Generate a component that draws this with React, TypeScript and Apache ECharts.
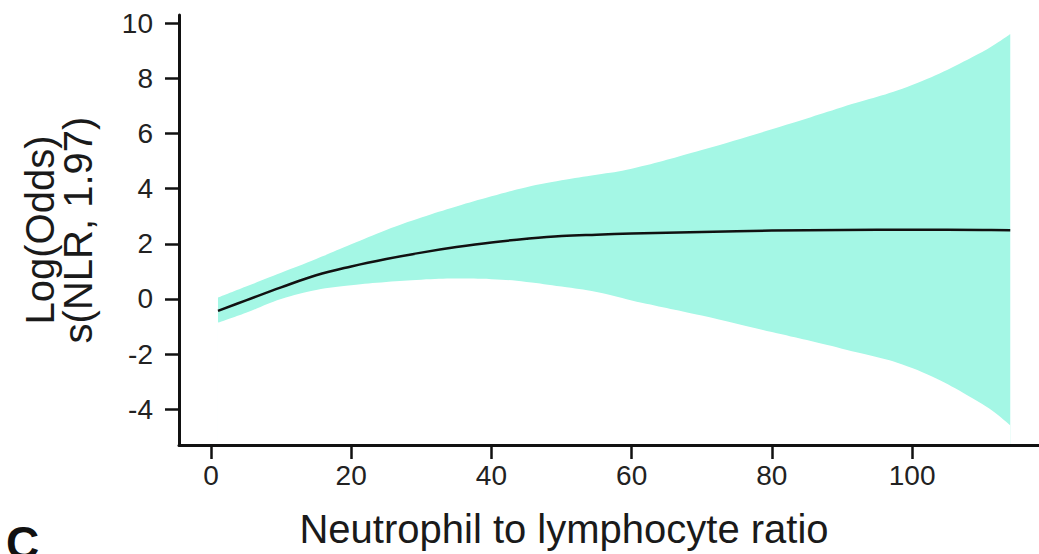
import React, { useEffect, useRef } from "react";
import * as echarts from "echarts";

// Neutrophil to lymphocyte ratio (x) and smooth-term estimate with its confidence band
const nlr = [1, 5, 10, 15, 20, 25, 30, 35, 40, 45, 50, 55, 60, 70, 80, 90, 100, 110, 114];
const fit = [-0.43, -0.05, 0.42, 0.86, 1.18, 1.45, 1.68, 1.88, 2.05, 2.18, 2.28, 2.33, 2.37, 2.43, 2.48, 2.5, 2.51, 2.5, 2.49];
const upper = [0.05, 0.45, 0.95, 1.45, 1.98, 2.5, 2.95, 3.35, 3.72, 4.05, 4.3, 4.5, 4.72, 5.4, 6.15, 6.95, 7.75, 8.95, 9.6];
const lower = [-0.86, -0.5, 0.0, 0.33, 0.5, 0.62, 0.7, 0.74, 0.72, 0.62, 0.45, 0.25, -0.05, -0.6, -1.2, -1.8, -2.5, -3.8, -4.57];

const xTicks = [0, 20, 40, 60, 80, 100];
const yTicks = [-4, -2, 0, 2, 4, 6, 8, 10];

const xTitle = "Neutrophil to lymphocyte ratio";
const yTitle = "Log(Odds)\ns(NLR, 1.97)";
const panelLabel = "C";

const FONT = "'Liberation Sans', Arial, Helvetica, sans-serif";
const BAND = "#a4f7e5";

export default function App() {
  const ref = useRef<HTMLDivElement>(null);

  useEffect(() => {
    if (!ref.current) return;
    const chart = echarts.init(ref.current, undefined, { renderer: "svg" });

    const upperData = nlr.map((x, i) => [x, upper[i]]);
    const lowerData = nlr.map((x, i) => [x, lower[i]]);
    const fitData = nlr.map((x, i) => [x, fit[i]]);

    chart.setOption({
      animation: false,
      backgroundColor: "#ffffff",
      grid: { left: 179, right: 0, top: 15, bottom: 106, containLabel: false },
      xAxis: {
        type: "value",
        min: -4.56,
        max: 118.1,
        z: 10,
        axisLine: { show: true, onZero: false, lineStyle: { color: "#111", width: 3 } },
        axisTick: {
          show: true,
          length: 14,
          lineStyle: { color: "#111", width: 2.5 },
          customValues: xTicks,
        },
        axisLabel: {
          customValues: xTicks,
          fontSize: 28,
          color: "#222",
          fontFamily: FONT,
          margin: 16,
        },
        splitLine: { show: false },
        name: xTitle,
        nameLocation: "middle",
        nameGap: 64,
        nameTextStyle: { fontSize: 40, color: "#1a1a1a", fontFamily: FONT, padding: [0, 90, 0, 0] },
      },
      yAxis: {
        type: "value",
        min: -5.29,
        max: 10.29,
        z: 10,
        axisLine: { show: true, onZero: false, lineStyle: { color: "#111", width: 3 } },
        axisTick: {
          show: true,
          length: 14,
          lineStyle: { color: "#111", width: 2.5 },
          customValues: yTicks,
        },
        axisLabel: {
          customValues: yTicks,
          fontSize: 28,
          color: "#222",
          fontFamily: FONT,
          margin: 26,
        },
        splitLine: { show: false },
        name: yTitle,
        nameLocation: "middle",
        nameRotate: 90,
        nameGap: 82,
        nameTextStyle: { fontSize: 40, color: "#1a1a1a", fontFamily: FONT, lineHeight: 38, align: "center" },
      },
      graphic: [
        {
          type: "text",
          left: 6,
          top: 520,
          style: { text: panelLabel, fontSize: 46, fontWeight: "bold", fill: "#111", fontFamily: FONT },
        },
      ],
      series: [
        {
          // upper bound of the confidence band, filled down to the axis minimum
          type: "line",
          data: upperData,
          smooth: 0.4,
          symbol: "none",
          lineStyle: { width: 0, opacity: 0 },
          areaStyle: { color: BAND, opacity: 1, origin: "start" },
          silent: true,
          z: 1,
        },
        {
          // lower bound: masks the fill below it so only the band remains
          type: "line",
          data: lowerData,
          smooth: 0.4,
          symbol: "none",
          lineStyle: { width: 0, opacity: 0 },
          areaStyle: { color: "#ffffff", opacity: 1, origin: "start" },
          silent: true,
          z: 2,
        },
        {
          type: "line",
          data: fitData,
          smooth: 0.4,
          symbol: "none",
          lineStyle: { color: "#111", width: 2.5 },
          z: 3,
        },
      ],
    });

    return () => chart.dispose();
  }, []);

  return (
    <div
      ref={ref}
      style={{ position: "fixed", left: 0, top: 0, width: 1039, height: 554, background: "#fff" }}
    />
  );
}
